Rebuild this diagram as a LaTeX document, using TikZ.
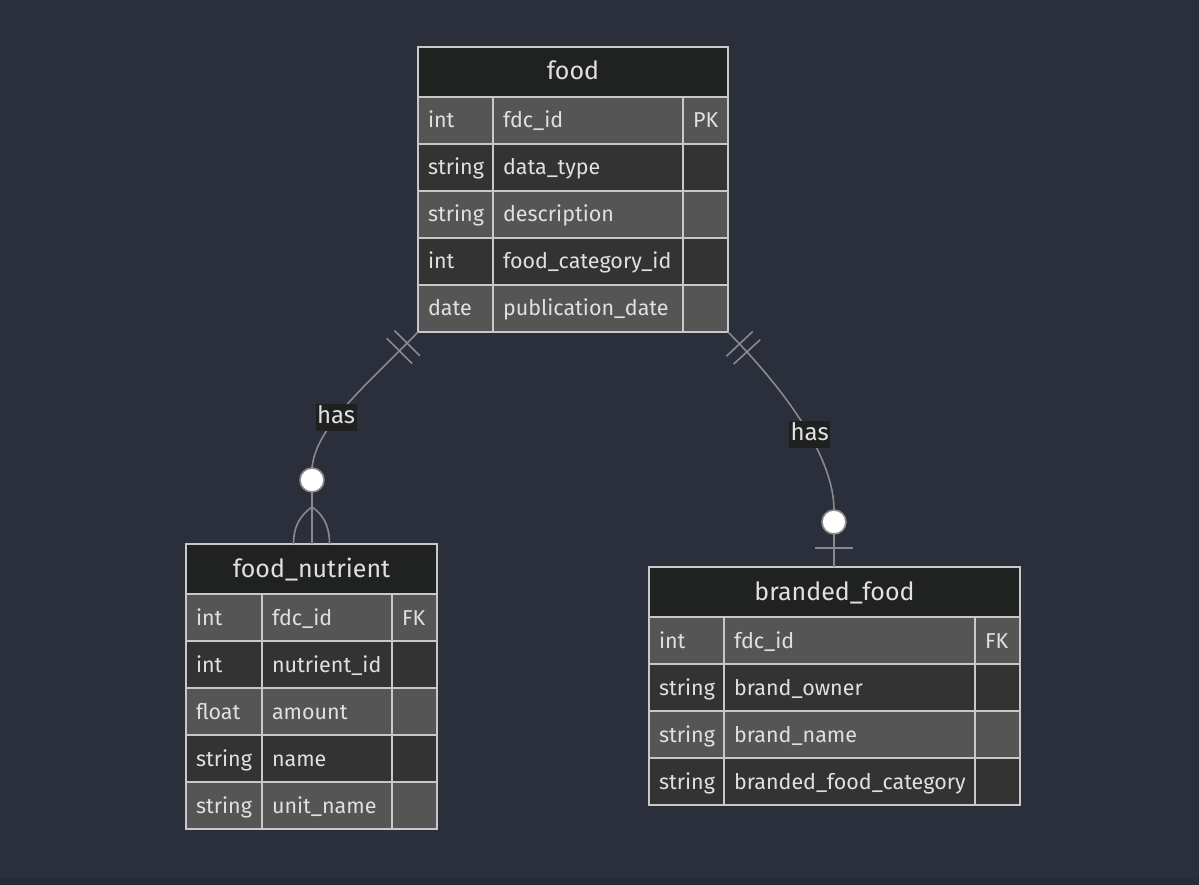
\documentclass[tikz,border=0pt]{standalone}
\usepackage{fontspec}
\setmainfont{Fira Sans}
\usetikzlibrary{calc}
\definecolor{bg}{HTML}{2A2F3B}
\definecolor{bgdark}{HTML}{252A34}
\definecolor{hdrfill}{HTML}{202221}
\definecolor{rowA}{HTML}{555555}
\definecolor{rowB}{HTML}{333333}
\definecolor{bord}{HTML}{C8C8C8}
\definecolor{txt}{HTML}{E0E0E0}
\definecolor{conn}{HTML}{8A8A8A}
\definecolor{lblfill}{HTML}{1F2020}
\tikzset{
  cell/.style={draw=bord, line width=1.5pt, outer sep=0pt, inner xsep=10pt, inner ysep=0pt,
    minimum height=47pt, align=left, anchor=north west, text=txt,
    font=\fontsize{21.5}{25}\selectfont, text height=19pt, text depth=4pt},
  hdrcell/.style={draw=bord, line width=1.5pt, outer sep=0pt, inner sep=0pt, fill=hdrfill,
    minimum height=50pt, anchor=north west, text=txt,
    font=\fontsize{25}{29}\selectfont, text height=21pt, text depth=5pt},
  connline/.style={draw=conn, line width=1.6pt},
  optcirc/.style={circle, draw=conn, line width=1.6pt, fill=white, minimum size=24pt, inner sep=0pt, outer sep=0pt},
  barnode/.style={minimum height=36pt, minimum width=0pt, inner sep=0pt, outer sep=0pt, sloped},
  lbl/.style={fill=lblfill, text=txt, inner xsep=1.5pt, inner ysep=0pt, text height=19pt, text depth=8pt,
    font=\fontsize{24}{28}\selectfont}
}
\newcommand\ErRow[7]{%
  \node[cell, fill=#4, text width=\wa] (#1-#2-t) at (\xo,#3) {#5};
  \node[cell, fill=#4, text width=\wb] (#1-#2-n) at (#1-#2-t.north east) {#6};
  \node[cell, fill=#4, text width=\wc] (#1-#2-k) at (#1-#2-n.north east) {#7};
}
\begin{document}
\begin{tikzpicture}[x=1pt,y=-1pt]
\fill[bg] (0,0) rectangle (1199,885);
\fill[bgdark] (0,879) rectangle (1199,885);
\useasboundingbox (0,0) rectangle (1199,885);

% ---------- food ----------
\node[hdrcell, minimum width=310pt] (food) at (418,47) {food};
\def\xo{418}\def\wa{55pt}\def\wb{170pt}\def\wc{25pt}
\ErRow{food}{1}{97}{rowA}{int}{fdc\_id}{PK}
\ErRow{food}{2}{144}{rowB}{string}{data\_type}{}
\ErRow{food}{3}{191}{rowA}{string}{description}{}
\ErRow{food}{4}{238}{rowB}{int}{food\_category\_id}{}
\ErRow{food}{5}{285}{rowA}{date}{publication\_date}{}

% ---------- food_nutrient ----------
\node[hdrcell, minimum width=251pt] (fn) at (186,544) {food\_nutrient};
\def\xo{186}\def\wa{56pt}\def\wb{110pt}\def\wc{25pt}
\ErRow{fn}{1}{594}{rowA}{int}{fdc\_id}{FK}
\ErRow{fn}{2}{641}{rowB}{int}{nutrient\_id}{}
\ErRow{fn}{3}{688}{rowA}{float}{amount}{}
\ErRow{fn}{4}{735}{rowB}{string}{name}{}
\ErRow{fn}{5}{782}{rowA}{string}{unit\_name}{}

% ---------- branded_food ----------
\node[hdrcell, minimum width=371pt] (bf) at (649,567) {branded\_food};
\def\xo{649}\def\wa{55pt}\def\wb{231pt}\def\wc{25pt}
\ErRow{bf}{1}{617}{rowA}{int}{fdc\_id}{FK}
\ErRow{bf}{2}{664}{rowB}{string}{brand\_owner}{}
\ErRow{bf}{3}{711}{rowA}{string}{brand\_name}{}
\ErRow{bf}{4}{758}{rowB}{string}{branded\_food\_category}{}

% ---------- relation food -> food_nutrient ----------
\node[optcirc] (c1) at (312,480) {};
\path[connline] (food-5-t.south west) .. controls (366,386) and (316,426) .. (c1.north)
  node[barnode, pos=0.07] (b1a) {}
  node[barnode, pos=0.12] (b1b) {}
  node[lbl, pos=0.6] (l1) {has};
\draw[connline] (b1a.north) -- (b1a.south);
\draw[connline] (b1b.north) -- (b1b.south);
\coordinate (cf) at (312,507);
\draw[connline] (c1.south) -- (c1.south |- fn.north);
\draw[connline] (cf) .. controls +(-13,9) and +(0,-16) .. ([xshift=-18pt]fn.north);
\draw[connline] (cf) .. controls +(13,9) and +(0,-16) .. ([xshift=18pt]fn.north);

% ---------- relation food -> branded_food ----------
\node[optcirc] (c2) at (834,522) {};
\path[connline] (food-5-k.south east) .. controls (790,395) and (834,460) .. (c2.north)
  node[barnode, pos=0.063] (b2a) {}
  node[barnode, pos=0.105] (b2b) {}
  node[lbl, pos=0.55] (l2) {has};
\draw[connline] (b2a.north) -- (b2a.south);
\draw[connline] (b2b.north) -- (b2b.south);
\draw[connline] (c2.south) -- (c2.south |- bf.north);
\coordinate (ob) at (834,548);
\draw[connline] ([xshift=-19pt]ob) -- ([xshift=19pt]ob);
\end{tikzpicture}
\end{document}
